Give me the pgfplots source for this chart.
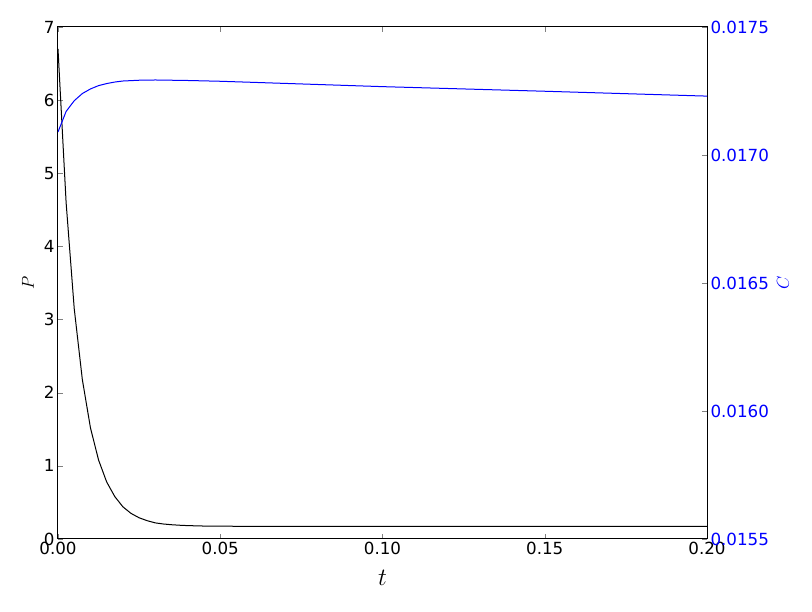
\documentclass[border=0pt]{standalone}
\usepackage{pgfplots}
\pgfplotsset{compat=1.18}
\usepackage{fontspec}
\setmainfont{DejaVu Sans}

\begin{document}
\begin{tikzpicture}
% P (left axis)
\begin{axis}[
  scale only axis,
  width=649pt, height=512pt,
  xmin=0, xmax=0.2,
  ymin=0, ymax=7,
  xtick={0,0.05,0.1,0.15,0.2},
  ytick={0,1,2,3,4,5,6,7},
  scaled x ticks=false,
  xticklabel style={/pgf/number format/fixed, /pgf/number format/fixed zerofill, /pgf/number format/precision=2},
  ytick pos=left,
  xtick pos=both,
  tick align=inside,
  major tick length=5pt,
  axis line style={line width=1pt},
  ticklabel style={font=\fontsize{16.7}{20}\selectfont},
  /pgf/number format/assume math mode=true,
  xlabel={$t$},
  xlabel style={at={(axis description cs:0.5,-0.0762)}, anchor=center, font=\fontsize{27.8}{30}\selectfont},
  ylabel={$P$},
  ylabel style={at={(axis description cs:-0.0462,0.5)}, anchor=center, font=\fontsize{16.7}{20}\selectfont},
]
\addplot[black, line width=1pt] coordinates {
  (0,6.70) (0.0025,4.60) (0.005,3.15) (0.0075,2.18) (0.01,1.52)
  (0.0125,1.08) (0.015,0.78) (0.0175,0.58) (0.02,0.44) (0.0225,0.35)
  (0.025,0.29) (0.0275,0.25) (0.03,0.22) (0.0325,0.205) (0.035,0.195)
  (0.0375,0.188) (0.04,0.183) (0.045,0.177) (0.05,0.175) (0.06,0.173)
  (0.08,0.172) (0.1,0.172) (0.15,0.172) (0.2,0.172)
};
\end{axis}
% C (right axis)
\begin{axis}[
  scale only axis,
  width=649pt, height=512pt,
  xmin=0, xmax=0.2,
  ymin=0.0155, ymax=0.0175,
  axis x line=none,
  axis y line*=right,
  ytick={0.0155,0.016,0.0165,0.017,0.0175},
  scaled y ticks=false,
  yticklabel style={blue, /pgf/number format/fixed, /pgf/number format/fixed zerofill, /pgf/number format/precision=4},
  tick align=inside,
  major tick length=5pt,
  axis line style={line width=1pt},
  ticklabel style={font=\fontsize{16.7}{20}\selectfont},
  /pgf/number format/assume math mode=true,
  ylabel={$C$},
  ylabel style={blue, at={(axis description cs:1.1171,0.5)}, anchor=center, font=\fontsize{16.7}{20}\selectfont},
]
\addplot[blue, line width=1pt] coordinates {
  (0,0.017090) (0.0025,0.017170) (0.005,0.017212) (0.0075,0.017240)
  (0.01,0.017258) (0.0125,0.017271) (0.015,0.017279) (0.0175,0.017285)
  (0.02,0.017289) (0.025,0.017292) (0.03,0.017293) (0.04,0.017291)
  (0.05,0.017288) (0.1,0.017267) (0.15,0.017249) (0.2,0.017230)
};
\end{axis}
\path ([shift={(-58pt,-73pt)}]current axis.south west) rectangle ([shift={(105pt,27pt)}]current axis.north east);
\end{tikzpicture}
\end{document}
